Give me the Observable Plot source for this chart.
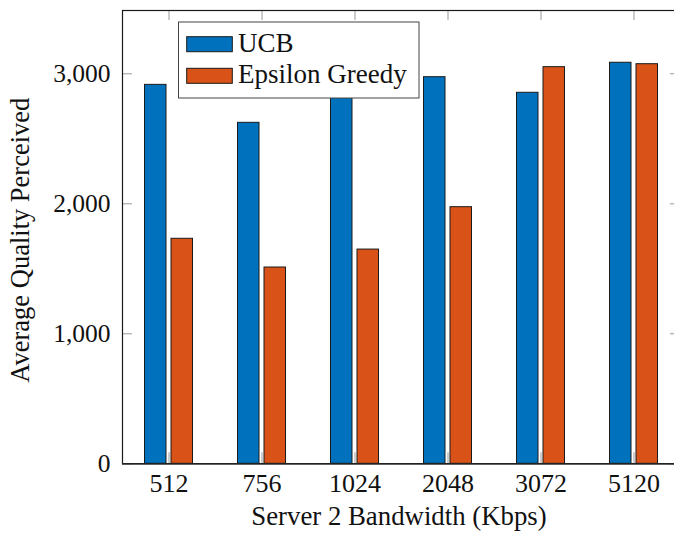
<!DOCTYPE html>
<html><head><meta charset="utf-8">
<script src="https://cdn.jsdelivr.net/npm/d3@7"></script>
<script src="https://cdn.jsdelivr.net/npm/@observablehq/plot@0.6"></script>
<style>
body{margin:0;background:#fff;overflow:hidden}
#wrap{position:relative;width:674px;height:533px;overflow:hidden}
#legend{position:absolute;left:0;top:0}
</style></head><body><div id="wrap"></div>
<script>
const categories = ["512","756","1024","2048","3072","5120"];
const ucbValues = [2915,2623,2850,2974,2854,3085];
const epsilonValues = [1731,1510,1648,1974,3051,3074];
const seriesNames = ["UCB","Epsilon Greedy"];
const seriesColors = ["#0072BD","#D95319"];
const yTicks = [0,1000,2000,3000];
const yMax = 3487;
const xLabel = "Server 2 Bandwidth (Kbps)";
const yLabel = "Average Quality Perceived";

const FONT = '"Liberation Serif","Times New Roman",serif';
const W = 674, H = 533, mL = 122, mR = -6, mT = 10, mB = 69.7;
const fw = W - mR - mL, fh = H - mB - mT;

const rows = [];
categories.forEach((c,i)=>{
  rows.push({cat:c, series:seriesNames[0], value:ucbValues[i]});
  rows.push({cat:c, series:seriesNames[1], value:epsilonValues[i]});
});

const plot = Plot.plot({
  width: W, height: H, marginLeft: mL, marginRight: mR, marginTop: mT, marginBottom: mB,
  style: {fontFamily: FONT, fontSize: "25.5px", background: "white", color: "#111"},
  x: {type: "band", domain: categories, range: [120.8, 680.6], padding: 0},
  y: {domain: [0, yMax]},
  marks: [
    Plot.barY(rows.filter(d=>d.series===seriesNames[0]), {x:"cat", y:"value", fill:seriesColors[0], stroke:"#1a1a1a", strokeWidth:1, insetLeft:22.5, insetRight:49}),
    Plot.barY(rows.filter(d=>d.series===seriesNames[1]), {x:"cat", y:"value", fill:seriesColors[1], stroke:"#1a1a1a", strokeWidth:1, insetLeft:49, insetRight:22.5}),
    Plot.tickY(yTicks, {y:d=>d, insetRight: fw-10, stroke:"#999"}),
    Plot.tickY(yTicks, {y:d=>d, insetLeft: fw-10, stroke:"#999"}),
    Plot.tickX(categories, {x:d=>d, insetTop: fh-11, stroke:"#999"}),
    Plot.tickX(categories, {x:d=>d, insetBottom: fh-10, stroke:"#999"}),
    Plot.frame({stroke:"#1a1a1a", strokeWidth:1.2}),
    Plot.ruleY([0], {stroke:"#222", strokeWidth:1.6}),
    Plot.axisX({tickSize:0, tickPadding:10, label:null, fontSize:26}),
    Plot.axisY({ticks:yTicks, tickSize:0, tickPadding:12, tickFormat:d3.format(","), label:null, fontSize:25.5}),
    Plot.text([xLabel], {text:d=>d, frameAnchor:"bottom", textAnchor:"middle", dy:61.5, dx:-2.5, fontSize:26.8}),
    Plot.text([yLabel], {text:d=>d, frameAnchor:"left", textAnchor:"middle", lineAnchor:"middle", rotate:-90, dx:-102, dy:3, fontSize:26.5})
  ]
});
const wrap = document.getElementById("wrap");
wrap.appendChild(plot);

// legend overlay
const leg = d3.select(wrap).append("svg").attr("id","legend").attr("width",W).attr("height",H)
  .style("font-family", FONT).style("pointer-events","none");
leg.append("rect").attr("x",178.5).attr("y",22).attr("width",240.5).attr("height",76)
  .attr("fill","white").attr("stroke","#444").attr("stroke-width",1);
seriesNames.forEach((name,i)=>{
  leg.append("rect").attr("x",186.7).attr("y",36.7 + i*31.6).attr("width",45.6).attr("height",15)
    .attr("fill",seriesColors[i]).attr("stroke","#1a1a1a").attr("stroke-width",1);
  leg.append("text").attr("x",238).attr("y",52 + i*31.3).attr("font-size",27).attr("fill","#111").text(name);
});
</script></body></html>
